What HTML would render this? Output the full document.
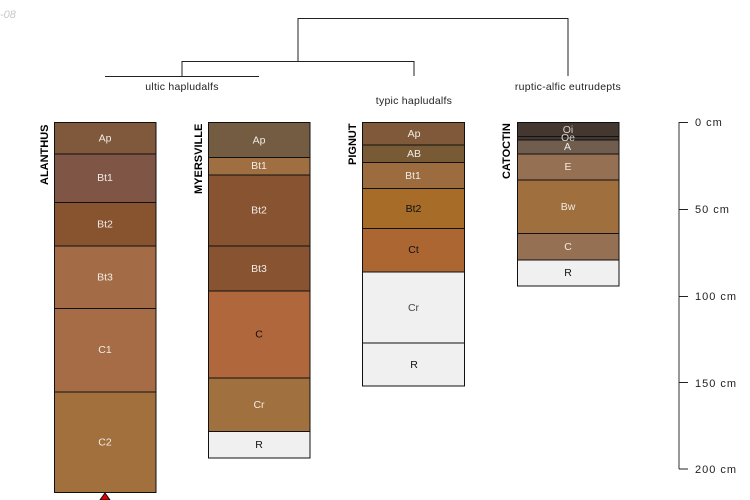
<!DOCTYPE html>
<html>
<head>
<meta charset="utf-8">
<style>
html,body{margin:0;padding:0;background:#fff}
svg{display:block}
text{font-family:"Liberation Sans",sans-serif;font-size:10.5px}
.l{text-anchor:middle;dominant-baseline:central;fill:#f0ece6}
.d{text-anchor:middle;dominant-baseline:central;fill:#111}
.n{font-weight:bold;font-size:11px;fill:#000}
.t{text-anchor:middle;fill:#222;letter-spacing:.25px}
.s{fill:#222;font-size:11px;letter-spacing:1px}
rect{stroke:#111;stroke-width:1}
</style>
</head>
<body>
<svg width="750" height="500" viewBox="0 0 750 500" xmlns="http://www.w3.org/2000/svg">
<text x="0" y="18" style="font-style:italic;font-size:11px;fill:#c8c8c8">-08</text>

<g fill="none" stroke="#111" stroke-width="1">
<path d="M298 18.5H568M298 18V61.5M568 18V76" stroke="#222"/>
<path d="M182 61.5H414M182 61V76M414 61V76M105 76.5H259" stroke="#222"/>
</g>
<text class="t" x="182" y="90">ultic hapludalfs</text>
<text class="t" x="414" y="104">typic hapludalfs</text>
<text class="t" x="568" y="90">ruptic-alfic eutrudepts</text>

<!-- ALANTHUS -->
<rect x="54.5" y="122.5" width="101.500" height="31.5" fill="#80583b"/>
<rect x="54.5" y="154" width="101.500" height="48.5" fill="#7f5646"/>
<rect x="54.5" y="202.5" width="101.500" height="43.5" fill="#88532f"/>
<rect x="54.5" y="246" width="101.500" height="62.5" fill="#a46c46"/>
<rect x="54.5" y="308.5" width="101.500" height="83.5" fill="#a56c46"/>
<rect x="54.5" y="392" width="101.500" height="100.5" fill="#a1703d"/>
<text class="l" x="105" y="138.500">Ap</text>
<text class="l" x="105" y="178">Bt1</text>
<text class="l" x="105" y="224.500">Bt2</text>
<text class="l" x="105" y="277.500">Bt3</text>
<text class="l" x="105" y="350">C1</text>
<text class="l" x="105" y="442.500">C2</text>
<text class="n" transform="translate(48,185) rotate(-90)">ALANTHUS</text>
<polygon points="105,493 110,500 100,500" fill="#e00000" stroke="#111" stroke-width="1"/>

<!-- MYERSVILLE -->
<rect x="208.5" y="122.5" width="101.500" height="35" fill="#745c42"/>
<rect x="208.5" y="157.5" width="101.500" height="17.5" fill="#a06f41"/>
<rect x="208.5" y="175" width="101.500" height="71" fill="#885330"/>
<rect x="208.5" y="246" width="101.500" height="45" fill="#885330"/>
<rect x="208.5" y="291" width="101.500" height="87" fill="#b1673c"/>
<rect x="208.5" y="378" width="101.500" height="53.5" fill="#a0703f"/>
<rect x="208.5" y="431.5" width="101.500" height="26.500" fill="#f0f0f0"/>
<text class="l" x="259" y="140.500">Ap</text>
<text class="l" x="259" y="166">Bt1</text>
<text class="l" x="259" y="210.500">Bt2</text>
<text class="l" x="259" y="269">Bt3</text>
<text class="d" x="259" y="334.500">C</text>
<text class="l" x="259" y="405">Cr</text>
<text class="d" x="259" y="445">R</text>
<text class="n" transform="translate(202,194) rotate(-90)">MYERSVILLE</text>

<!-- PIGNUT -->
<rect x="362.5" y="122.5" width="102" height="22.5" fill="#7f5939"/>
<rect x="362.5" y="145" width="102" height="17.5" fill="#785a35"/>
<rect x="362.5" y="162.5" width="102" height="26" fill="#9c6b3e"/>
<rect x="362.5" y="188.5" width="102" height="40" fill="#a66c28"/>
<rect x="362.5" y="228.5" width="102" height="43.5" fill="#ab6632"/>
<rect x="362.5" y="272" width="102" height="71" fill="#f0f0f0"/>
<rect x="362.5" y="343" width="102" height="43" fill="#f0f0f0"/>
<text class="l" x="414" y="134">Ap</text>
<text class="l" x="414" y="154">AB</text>
<text class="l" x="413" y="176">Bt1</text>
<text class="d" x="413.500" y="209">Bt2</text>
<text class="d" x="413.500" y="250">Ct</text>
<text class="d" x="413.500" y="308" style="fill:#444">Cr</text>
<text class="d" x="414" y="365">R</text>
<text class="n" transform="translate(356,165) rotate(-90)">PIGNUT</text>

<!-- CATOCTIN -->
<rect x="517.5" y="122.5" width="101.500" height="14" fill="#433730"/>
<rect x="517.5" y="136.500" width="101.500" height="3.500" fill="#433730"/>
<rect x="517.5" y="140" width="101.500" height="14" fill="#705d4e"/>
<rect x="517.5" y="154" width="101.500" height="26" fill="#967052"/>
<rect x="517.5" y="180" width="101.500" height="53.5" fill="#a06f3e"/>
<rect x="517.5" y="233.5" width="101.500" height="26.500" fill="#957052"/>
<rect x="517.5" y="260" width="101.500" height="26" fill="#f0f0f0"/>
<text class="l" x="568" y="130" style="fill:#d8d4cf">Oi</text>
<text class="l" x="568" y="138" style="fill:#d8d4cf">Oe</text>
<text class="l" x="567.500" y="147">A</text>
<text class="l" x="568" y="167">E</text>
<text class="l" x="568" y="207">Bw</text>
<text class="l" x="568" y="247">C</text>
<text class="d" x="568" y="273">R</text>
<text class="n" transform="translate(510,179) rotate(-90)">CATOCTIN</text>

<!-- depth scale -->
<path d="M679 122V469" stroke="#555" stroke-width="1.2" fill="none"/>
<path d="M679 122.5H688M679 209.500H688M679 296.500H688M679 382.500H688M679 469H688" stroke="#222" stroke-width="1" fill="none"/>
<text class="s" x="695" y="126">0 cm</text>
<text class="s" x="695" y="213">50 cm</text>
<text class="s" x="695" y="300">100 cm</text>
<text class="s" x="695" y="387">150 cm</text>
<text class="s" x="695" y="473">200 cm</text>
</svg>
</body>
</html>
